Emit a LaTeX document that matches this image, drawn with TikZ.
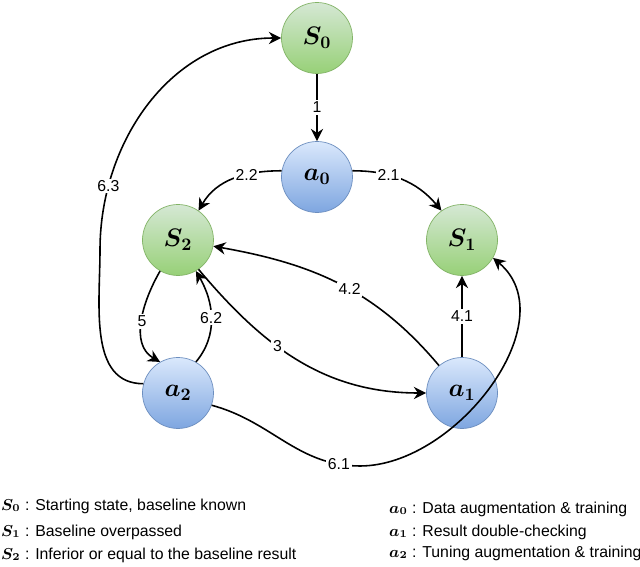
\documentclass[tikz,border=0pt]{standalone}
\usepackage{fontspec}
\setmainfont{Liberation Sans}
\usepackage{amsmath,bm}
\usetikzlibrary{arrows.meta,shadings}
\definecolor{gfill}{HTML}{D5E8D4}
\definecolor{gdark}{HTML}{97D077}
\definecolor{gline}{HTML}{82B366}
\definecolor{bfill}{HTML}{DAE8FC}
\definecolor{bdark}{HTML}{7EA6E0}
\definecolor{bline}{HTML}{6C8EBF}
\begin{document}
\begin{tikzpicture}[x=0.02cm,y=-0.02cm,
  st/.style={circle,minimum size=1.42cm,inner sep=0pt,top color=gfill,bottom color=gdark,draw=gline,font=\Large},
  ac/.style={circle,minimum size=1.42cm,inner sep=0pt,top color=bfill,bottom color=bdark,draw=bline,font=\Large},
  ar/.style={-{Stealth[length=7pt,width=7pt]},line width=0.9pt},
  lb/.style={fill=white,inner sep=1pt,font=\small},
  lg/.style={anchor=west,font=\small}]
\useasboundingbox (0,0) rectangle (640,567);
\node[st] (s0) at (317,38) {$\bm{S_0}$};
\node[ac] (a0) at (317,177) {$\bm{a_0}$};
\node[st] (s2) at (178,240) {$\bm{S_2}$};
\node[st] (s1) at (462,240) {$\bm{S_1}$};
\node[ac] (a2) at (178,393) {$\bm{a_2}$};
\node[ac] (a1) at (462,393) {$\bm{a_1}$};
\coordinate (bot) at (360,466);

\draw[ar] (s0) -- node[lb]{1} (a0);
\draw[ar] (a0.170) to[out=180,in=60] node[lb,pos=0.35]{2.2} (s2.55);
\draw[ar] (a0.10) to[out=0,in=130] node[lb,pos=0.35]{2.1} (s1.125);
\draw[ar] (a1.130) to[out=130,in=-10] node[lb,pos=0.45]{4.2} (s2.-10);
\draw[ar] (s2.-55) to[out=-50,in=180] node[lb,pos=0.4]{3} (a1.180);
\draw[ar] (a1) -- node[lb]{4.1} (s1);
\draw[ar] (s2.-120) to[out=-120,in=150] node[lb]{5} (a2.120);
\draw[ar] (a2.60) to[out=50,in=-60] node[lb]{6.2} (s2.-60);
\draw[ar] (a2.165) to[out=180,in=-90] (100,250) to[out=90,in=180] node[lb,pos=0.2]{6.3} (s0.180);
\draw[ar] (a2.-20) to[out=-15,in=180] node[lb,pos=0.88]{6.1} (bot) to[out=0,in=-40] (s1.-30);

\node[lg] (l0) at (-5,506) {$\bm{S_0}$ : Starting state, baseline known};
\node[lg] (l1) at (-5,532) {$\bm{S_1}$ : Baseline overpassed};
\node[lg] (l2) at (-5,555) {$\bm{S_2}$ : Inferior or equal to the baseline result};
\node[lg] (r0) at (383,509) {$\bm{a_0}$ : Data augmentation \& training};
\node[lg] (r1) at (383,532) {$\bm{a_1}$ : Result double-checking};
\node[lg] (r2) at (383,553) {$\bm{a_2}$ : Tuning augmentation \& training};
\end{tikzpicture}
\end{document}
